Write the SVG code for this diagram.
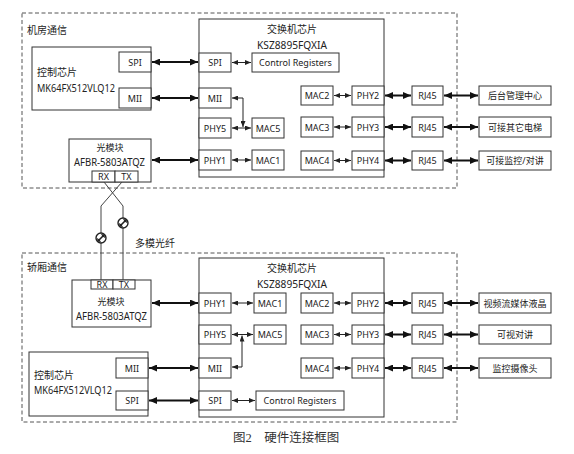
<svg xmlns="http://www.w3.org/2000/svg" width="574" height="454" viewBox="0 0 574 454">
<style>
.bg{fill:#fff}
.dash{fill:none;stroke:#555;stroke-width:1;stroke-dasharray:4,2.5}
.b{fill:#fff;stroke:#333;stroke-width:1}
.t{font-family:"Noto Sans","Noto Sans CJK SC",sans-serif;font-size:9px;fill:#222}
.tl{font-family:"Noto Sans","Noto Sans CJK SC",sans-serif;font-size:10px;fill:#222}
.tn{font-family:"Noto Sans","Noto Sans CJK SC",sans-serif;font-size:10.5px;fill:#222}
.m{text-anchor:middle}
.thick{fill:none;stroke:#111;stroke-width:2;marker-start:url(#ah);marker-end:url(#ah)}
.thin{fill:none;stroke:#222;stroke-width:1;marker-start:url(#as);marker-end:url(#as)}
.fib{fill:none;stroke:#444;stroke-width:1}
.cap{font-family:"Liberation Serif","Noto Sans CJK SC",serif;font-size:12.5px;fill:#333}
</style>
<defs>
<marker id="ah" viewBox="0 0 8 7" refX="8" refY="3.5" markerWidth="8" markerHeight="7" markerUnits="userSpaceOnUse" orient="auto-start-reverse"><path d="M0,0 L8,3.5 L0,7 z" fill="#111"/></marker>
<marker id="as" viewBox="0 0 6 5" refX="6" refY="2.5" markerWidth="6" markerHeight="5" markerUnits="userSpaceOnUse" orient="auto-start-reverse"><path d="M0,0 L6,2.5 L0,5 z" fill="#222"/></marker>
<g id="fsym"><circle cx="0" cy="0" r="5" fill="#fff" stroke="#222" stroke-width="1.4"/><path d="M-3.5,3.5 L3.5,-3.5" stroke="#222" stroke-width="1.6"/><path d="M-4,0 A4,4 0 0 0 0,4 L-1.5,1.5 z M4,0 A4,4 0 0 0 0,-4 L1.5,-1.5 z" fill="#222"/></g>
</defs>
<rect class="bg" x="0" y="0" width="574" height="454"/>

<!-- Top section -->
<g id="top-area">
<rect class="dash" x="22" y="13" width="435" height="175"/>
<text class="tl" x="27" y="34">机房通信</text>
</g>
<g id="top-ctrl">
<rect class="b" x="32" y="47" width="119" height="63"/>
<text class="tl" x="37" y="76">控制芯片</text>
<text class="tn" x="37" y="92" textLength="78" lengthAdjust="spacingAndGlyphs">MK64FX512VLQ12</text>
<rect class="b" x="119" y="52" width="32" height="20"/><text class="t m" x="135" y="65.5">SPI</text>
<rect class="b" x="119" y="88" width="32" height="20"/><text class="t m" x="135" y="101.5">MII</text>
</g>
<g id="top-switch">
<rect class="b" x="199" y="19" width="185" height="158"/>
<text class="tl m" x="292" y="33">交换机芯片</text>
<text class="tn" x="257" y="49" textLength="70" lengthAdjust="spacingAndGlyphs">KSZ8895FQXIA</text>
<rect class="b" x="199" y="53" width="32" height="19"/><text class="t m" x="215" y="66">SPI</text>
<rect class="b" x="252" y="53" width="87" height="19"/><text class="t m" x="295.5" y="66">Control Registers</text>
<rect class="b" x="199" y="88" width="32" height="20"/><text class="t m" x="215" y="101.5">MII</text>
<rect class="b" x="199" y="118" width="32" height="20"/><text class="t m" x="215" y="131.5">PHY5</text>
<rect class="b" x="252" y="118" width="32" height="20"/><text class="t m" x="268" y="131.5">MAC5</text>
<rect class="b" x="199" y="150" width="32" height="20"/><text class="t m" x="215" y="163.5">PHY1</text>
<rect class="b" x="252" y="150" width="32" height="20"/><text class="t m" x="268" y="163.5">MAC1</text>
<rect class="b" x="301" y="86" width="32" height="19"/><text class="t m" x="317" y="99">MAC2</text>
<rect class="b" x="352" y="86" width="32" height="19"/><text class="t m" x="368" y="99">PHY2</text>
<rect class="b" x="301" y="117" width="32" height="20"/><text class="t m" x="317" y="130.5">MAC3</text>
<rect class="b" x="352" y="117" width="32" height="20"/><text class="t m" x="368" y="130.5">PHY3</text>
<rect class="b" x="301" y="151" width="32" height="19"/><text class="t m" x="317" y="164">MAC4</text>
<rect class="b" x="352" y="151" width="32" height="19"/><text class="t m" x="368" y="164">PHY4</text>
</g>
<g id="top-rj45">
<rect class="b" x="412" y="86" width="31" height="19"/><text class="t m" x="427.5" y="99">RJ45</text>
<rect class="b" x="412" y="117" width="31" height="20"/><text class="t m" x="427.5" y="130.5">RJ45</text>
<rect class="b" x="412" y="151" width="31" height="19"/><text class="t m" x="427.5" y="164">RJ45</text>
</g>
<g id="top-ends">
<rect class="b" x="479" y="86" width="72" height="19"/><text class="t m" x="515" y="99">后台管理中心</text>
<rect class="b" x="479" y="117" width="72" height="20"/><text class="t m" x="515" y="130.5">可接其它电梯</text>
<rect class="b" x="479" y="151" width="72" height="19"/><text class="t m" x="515" y="164">可接监控/对讲</text>
</g>
<g id="top-optic">
<rect class="b" x="69" y="139" width="82" height="43"/>
<text class="t m" x="110" y="151">光模块</text>
<text class="tn" x="74" y="166" textLength="71" lengthAdjust="spacingAndGlyphs">AFBR-5803ATQZ</text>
<rect class="b" x="92" y="171" width="23" height="11"/><text class="t m" x="103.5" y="180">RX</text>
<rect class="b" x="115" y="171" width="23" height="11"/><text class="t m" x="126.5" y="180">TX</text>
</g>

<!-- Bottom section -->
<g id="bot-area">
<rect class="dash" x="22" y="253" width="435" height="169"/>
<text class="tl" x="27" y="271">轿厢通信</text>
</g>
<g id="bot-switch">
<rect class="b" x="199" y="258" width="185" height="159"/>
<text class="tl m" x="292" y="272">交换机芯片</text>
<text class="tn" x="257" y="288" textLength="70" lengthAdjust="spacingAndGlyphs">KSZ8895FQXIA</text>
<rect class="b" x="199" y="293" width="32" height="20"/><text class="t m" x="215" y="306.5">PHY1</text>
<rect class="b" x="254" y="293" width="32" height="20"/><text class="t m" x="270" y="306.5">MAC1</text>
<rect class="b" x="199" y="325" width="32" height="19"/><text class="t m" x="215" y="338">PHY5</text>
<rect class="b" x="254" y="325" width="32" height="19"/><text class="t m" x="270" y="338">MAC5</text>
<rect class="b" x="199" y="358" width="32" height="20"/><text class="t m" x="215" y="371.5">MII</text>
<rect class="b" x="199" y="391" width="32" height="19"/><text class="t m" x="215" y="404">SPI</text>
<rect class="b" x="256" y="391" width="88" height="19"/><text class="t m" x="300" y="404">Control Registers</text>
<rect class="b" x="301" y="293" width="32" height="20"/><text class="t m" x="317" y="306.5">MAC2</text>
<rect class="b" x="352" y="293" width="32" height="20"/><text class="t m" x="368" y="306.5">PHY2</text>
<rect class="b" x="301" y="325" width="32" height="19"/><text class="t m" x="317" y="338">MAC3</text>
<rect class="b" x="352" y="325" width="32" height="19"/><text class="t m" x="368" y="338">PHY3</text>
<rect class="b" x="301" y="358" width="32" height="20"/><text class="t m" x="317" y="371.5">MAC4</text>
<rect class="b" x="352" y="358" width="32" height="20"/><text class="t m" x="368" y="371.5">PHY4</text>
</g>
<g id="bot-rj45">
<rect class="b" x="412" y="293" width="31" height="20"/><text class="t m" x="427.5" y="306.5">RJ45</text>
<rect class="b" x="412" y="325" width="31" height="19"/><text class="t m" x="427.5" y="338">RJ45</text>
<rect class="b" x="412" y="358" width="31" height="20"/><text class="t m" x="427.5" y="371.5">RJ45</text>
</g>
<g id="bot-ends">
<rect class="b" x="479" y="293" width="72" height="20"/><text class="t m" x="515" y="306.5">视频流媒体液晶</text>
<rect class="b" x="479" y="325" width="72" height="19"/><text class="t m" x="515" y="338">可视对讲</text>
<rect class="b" x="479" y="358" width="72" height="20"/><text class="t m" x="515" y="371.5">监控摄像头</text>
</g>
<g id="bot-optic">
<rect class="b" x="72" y="280" width="79" height="47"/>
<rect class="b" x="91" y="280" width="22" height="9"/><text class="t m" x="102" y="288">RX</text>
<rect class="b" x="113" y="280" width="22" height="9"/><text class="t m" x="124" y="288">TX</text>
<text class="t m" x="111" y="305">光模块</text>
<text class="tn" x="76" y="320" textLength="71" lengthAdjust="spacingAndGlyphs">AFBR-5803ATQZ</text>
</g>
<g id="bot-ctrl">
<rect class="b" x="29" y="352" width="119" height="64"/>
<text class="tl" x="34" y="379">控制芯片</text>
<text class="tn" x="34" y="394" textLength="78" lengthAdjust="spacingAndGlyphs">MK64FX512VLQ12</text>
<rect class="b" x="116" y="358" width="32" height="20"/><text class="t m" x="132" y="371.5">MII</text>
<rect class="b" x="116" y="391" width="32" height="19"/><text class="t m" x="132" y="404">SPI</text>
</g>

<!-- Connectors -->
<g id="connectors">
<line class="thick" x1="152" y1="62" x2="198" y2="62"/>
<line class="thick" x1="152" y1="98" x2="198" y2="98"/>
<line class="thick" x1="152" y1="160" x2="198" y2="160"/>
<line class="thin" x1="232" y1="62.5" x2="251" y2="62.5"/>
<path class="thin" d="M232,98 L243,98 L243,127"/>
<line class="thin" x1="232" y1="128" x2="251" y2="128"/>
<line class="thin" x1="232" y1="160" x2="251" y2="160"/>
<line class="thin" x1="334" y1="95.5" x2="351" y2="95.5"/>
<line class="thin" x1="334" y1="127" x2="351" y2="127"/>
<line class="thin" x1="334" y1="160.5" x2="351" y2="160.5"/>
<line class="thick" x1="385" y1="95.5" x2="411" y2="95.5"/>
<line class="thick" x1="385" y1="127" x2="411" y2="127"/>
<line class="thick" x1="385" y1="160.5" x2="411" y2="160.5"/>
<line class="thick" x1="444" y1="95.5" x2="478" y2="95.5"/>
<line class="thick" x1="444" y1="127" x2="478" y2="127"/>
<line class="thick" x1="444" y1="160.5" x2="478" y2="160.5"/>

<path class="fib" d="M104,182 L123,206 L123,280"/>
<path class="fib" d="M122,182 L101,206 L101,280"/>

<line class="thick" x1="152" y1="303" x2="198" y2="303"/>
<line class="thin" x1="232" y1="303" x2="253" y2="303"/>
<line class="thin" x1="232" y1="334.5" x2="253" y2="334.5"/>
<path class="thin" d="M232,367 L242,367 L242,335.5"/>
<line class="thick" x1="149" y1="368" x2="198" y2="368"/>
<line class="thick" x1="149" y1="400.5" x2="198" y2="400.5"/>
<line class="thin" x1="232" y1="400.5" x2="255" y2="400.5"/>
<line class="thin" x1="334" y1="303" x2="351" y2="303"/>
<line class="thin" x1="334" y1="334.5" x2="351" y2="334.5"/>
<line class="thin" x1="334" y1="368" x2="351" y2="368"/>
<line class="thick" x1="385" y1="303" x2="411" y2="303"/>
<line class="thick" x1="385" y1="334.5" x2="411" y2="334.5"/>
<line class="thick" x1="385" y1="368" x2="411" y2="368"/>
<line class="thick" x1="444" y1="303" x2="478" y2="303"/>
<line class="thick" x1="444" y1="334.5" x2="478" y2="334.5"/>
<line class="thick" x1="444" y1="368" x2="478" y2="368"/>
</g>
<g id="fiber-symbols">
<use href="#fsym" x="101" y="238"/>
<use href="#fsym" x="123" y="223"/>
<text class="tl" x="135" y="247">多模光纤</text>
</g>
<text class="cap" x="233" y="442">图2　硬件连接框图</text>
</svg>
